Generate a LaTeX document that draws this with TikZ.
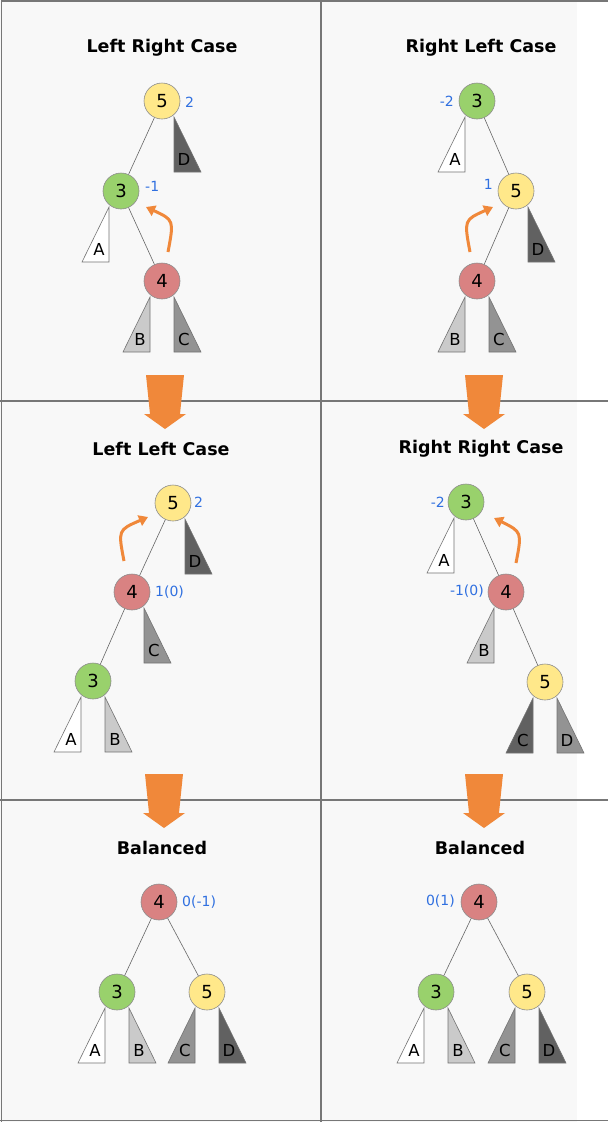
\documentclass[tikz,border=0pt]{standalone}
\usepackage{fontspec}
\setmainfont{DejaVu Sans}
\usetikzlibrary{arrows.meta}
\definecolor{bgpanel}{HTML}{F8F8F8}
\definecolor{frameline}{HTML}{777777}
\definecolor{nyellow}{HTML}{FFE88A}
\definecolor{ngreen}{HTML}{99D16C}
\definecolor{nred}{HTML}{D98282}
\definecolor{tlight}{HTML}{CACACA}
\definecolor{tmid}{HTML}{939393}
\definecolor{tdark}{HTML}{616161}
\definecolor{balblue}{HTML}{3070E0}
\definecolor{rotorange}{HTML}{F0883A}
\tikzset{
  avl/.style={circle, minimum size=36pt, inner sep=0pt, draw=black!45, line width=0.6pt, font=\fontsize{18}{18}\selectfont},
  edge/.style={draw=black!60, line width=0.6pt},
  tri/.style={draw=black!55, line width=0.6pt, line join=miter},
  trilab/.style={inner sep=0pt, font=\fontsize{16.5}{16.5}\selectfont},
  bal/.style={inner sep=0pt, text=balblue, font=\fontsize{14}{14}\selectfont},
  ttl/.style={inner sep=0pt, font=\bfseries\fontsize{17.5}{19}\selectfont},
  rot/.style={draw=rotorange, line width=3pt, -{Triangle[length=9pt,width=11pt]}},
  bigarrow/.style={fill=rotorange, draw=none},
  frame/.style={draw=frameline, line width=1.5pt}
}
% subtree on the left of a node: #1 cx, #2 cy, #3 fill, #4 label, #5 name
\newcommand\subLeft[5]{%
  \draw[tri, fill=#3] (#1-12,#2+16) -- (#1-12,#2+71) -- (#1-39,#2+71) -- cycle;
  \node[trilab] (#5) at (#1-22,#2+58) {#4};}
% subtree on the right of a node
\newcommand\subRight[5]{%
  \draw[tri, fill=#3] (#1+12,#2+16) -- (#1+12,#2+71) -- (#1+39,#2+71) -- cycle;
  \node[trilab] (#5) at (#1+22,#2+58) {#4};}
% big downward arrow: #1 cx, #2 top y
\newcommand\downArrow[2]{%
  \fill[bigarrow] (#1-19,#2) -- (#1+19,#2) -- (#1+15,#2+39) -- (#1+21,#2+39)
    -- (#1,#2+54) -- (#1-21,#2+39) -- (#1-15,#2+39) -- cycle;}
\begin{document}
\begin{tikzpicture}[x=1pt,y=-1pt]
\useasboundingbox (0,0) rectangle (608,1122);
% background and frame
\fill[bgpanel] (0,0) rectangle (577,1122);
\draw[frame] (1.5,0.8) -- (608,0.8);
\draw[frame] (1.5,0) -- (1.5,1122);
\draw[frame] (0,1120.5) -- (608,1120.5);
\draw[frame] (321,0) -- (321,1122);
\draw[frame] (0,401) -- (608,401);
\draw[frame] (0,800) -- (608,800);

% ---------- Panel 1: Left Right Case ----------
\node[ttl] (t1) at (162,48) {Left Right Case};
\node[avl, fill=nyellow] (a5) at (162,101) {5};
\node[avl, fill=ngreen] (a3) at (121,191) {3};
\node[avl, fill=nred] (a4) at (162,281) {4};
\draw[edge] (a5) -- (a3);
\draw[edge] (a3) -- (a4);
\subRight{162}{101}{tdark}{D}{aD}
\subLeft{121}{191}{white}{A}{aA}
\subLeft{162}{281}{tlight}{B}{aB}
\subRight{162}{281}{tmid}{C}{aC}
\node[bal, anchor=west] (ab5) at (185,102) {2};
\node[bal, anchor=west] (ab3) at (145,186) {-1};
\coordinate (ars) at (168,252);
\coordinate (are) at (146,207);
\draw[rot] (ars) .. controls (174,220) .. (are);

% ---------- Panel 2: Right Left Case ----------
\node[ttl] (t2) at (481,48) {Right Left Case};
\node[avl, fill=ngreen] (b3) at (477,101) {3};
\node[avl, fill=nyellow] (b5) at (516,191) {5};
\node[avl, fill=nred] (b4) at (477,281) {4};
\draw[edge] (b3) -- (b5);
\draw[edge] (b5) -- (b4);
\subLeft{477}{101}{white}{A}{bA}
\subRight{516}{191}{tdark}{D}{bD}
\subLeft{477}{281}{tlight}{B}{bB}
\subRight{477}{281}{tmid}{C}{bC}
\node[bal, anchor=east] (bb3) at (454,101) {-2};
\node[bal, anchor=east] (bb5) at (493,184) {1};
\coordinate (brs) at (470,252);
\coordinate (bre) at (493,207);
\draw[rot] (brs) .. controls (464,220) .. (bre);

% ---------- Panel 3: Left Left Case ----------
\node[ttl] (t3) at (161,449) {Left Left Case};
\node[avl, fill=nyellow] (c5) at (173,503) {5};
\node[avl, fill=nred] (c4) at (132,592) {4};
\node[avl, fill=ngreen] (c3) at (93,681) {3};
\draw[edge] (c5) -- (c4);
\draw[edge] (c4) -- (c3);
\subRight{173}{503}{tdark}{D}{cD}
\subRight{132}{592}{tmid}{C}{cC}
\subLeft{93}{681}{white}{A}{cA}
\subRight{93}{681}{tlight}{B}{cB}
\node[bal, anchor=west] (cb5) at (194,502) {2};
\node[bal, anchor=west] (cb4) at (155,592) {1(0)};
\coordinate (crs) at (124,561);
\coordinate (cre) at (148,517);
\draw[rot] (crs) .. controls (118,530) .. (cre);

% ---------- Panel 4: Right Right Case ----------
\node[ttl] (t4) at (481,449) {Right Right Case};
\node[avl, fill=ngreen] (d3) at (466,502) {3};
\node[avl, fill=nred] (d4) at (506,592) {4};
\node[avl, fill=nyellow] (d5) at (545,682) {5};
\draw[edge] (d3) -- (d4);
\draw[edge] (d4) -- (d5);
\subLeft{466}{502}{white}{A}{dA}
\subLeft{506}{592}{tlight}{B}{dB}
\subLeft{545}{682}{tdark}{C}{dC}
\subRight{545}{682}{tmid}{D}{dD}
\node[bal, anchor=east] (db3) at (445,502) {-2};
\node[bal, anchor=east] (db4) at (484,591) {-1(0)};
\coordinate (drs) at (516,563);
\coordinate (dre) at (494,518);
\draw[rot] (drs) .. controls (522,532) .. (dre);

% ---------- Panel 5: Balanced ----------
\node[ttl] (t5) at (162,848) {Balanced};
\node[avl, fill=nred] (e4) at (159,902) {4};
\node[avl, fill=ngreen] (e3) at (117,992) {3};
\node[avl, fill=nyellow] (e5) at (207,992) {5};
\draw[edge] (e4) -- (e3);
\draw[edge] (e4) -- (e5);
\subLeft{117}{992}{white}{A}{eA}
\subRight{117}{992}{tlight}{B}{eB}
\subLeft{207}{992}{tmid}{C}{eC}
\subRight{207}{992}{tdark}{D}{eD}
\node[bal, anchor=west] (eb4) at (182,902) {0(-1)};

% ---------- Panel 6: Balanced ----------
\node[ttl] (t6) at (480,848) {Balanced};
\node[avl, fill=nred] (f4) at (479,902) {4};
\node[avl, fill=ngreen] (f3) at (436,992) {3};
\node[avl, fill=nyellow] (f5) at (527,992) {5};
\draw[edge] (f4) -- (f3);
\draw[edge] (f4) -- (f5);
\subLeft{436}{992}{white}{A}{fA}
\subRight{436}{992}{tlight}{B}{fB}
\subLeft{527}{992}{tmid}{C}{fC}
\subRight{527}{992}{tdark}{D}{fD}
\node[bal, anchor=east] (fb4) at (455,901) {0(1)};

% big transition arrows
\downArrow{165}{375}
\downArrow{484}{375}
\downArrow{164}{774}
\downArrow{484}{774}
\end{tikzpicture}
\end{document}
